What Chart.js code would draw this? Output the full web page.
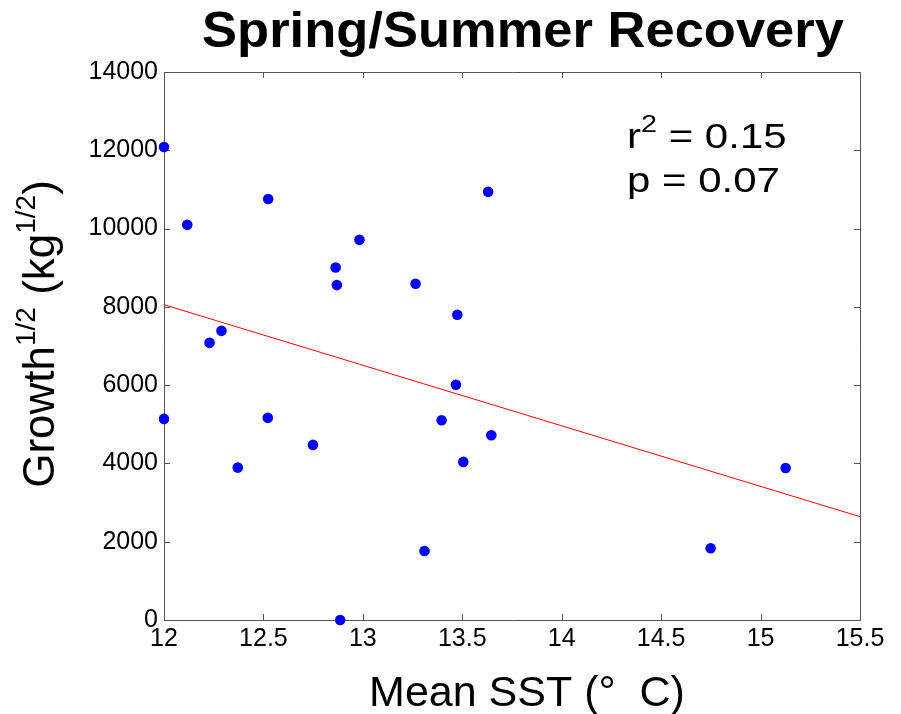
<!DOCTYPE html>
<html>
<head>
<meta charset="utf-8">
<title>Spring/Summer Recovery</title>
<script src="https://cdn.jsdelivr.net/npm/chart.js@4.4.1/dist/chart.umd.min.js"></script>
<style>
  html, body { margin: 0; padding: 0; background: #fff; }
  #chart { display: block; }
</style>
</head>
<body>
<canvas id="chart" width="901" height="714"></canvas>
<script>
// mean sea surface temperature (deg C) and sqrt of growth per year
let sstValues = [12.0, 12.117, 12.0, 12.229, 12.289, 12.371, 12.524, 12.522, 12.749, 12.863, 12.869, 12.886,
                 12.983, 13.265, 13.31, 13.396, 13.475, 13.468, 13.505, 13.63, 13.646, 14.749, 15.126];
let growthValues = [12083, 10097, 5138, 7081, 7387, 3893, 10754, 5164, 4473, 9006, 8556, 0,
                    9713, 8589, 1764, 5104, 7797, 6007, 4039, 10941, 4721, 1833, 3885];
// least squares fit, end points
let fitX = [12, 15.5];
let fitY = [8055, 2640];
let xTicks = [12, 12.5, 13, 13.5, 14, 14.5, 15, 15.5];
let yTicks = [0, 2000, 4000, 6000, 8000, 10000, 12000, 14000];

const fontFamily = '"Liberation Sans", Arial, sans-serif';
const axisColor = '#555';

let points = sstValues.map((x, i) => ({x: x, y: growthValues[i]}));
let fitLine = fitX.map((x, i) => ({x: x, y: fitY[i]}));

// inward tick marks on all four sides plus the top/right frame
const frameTicks = {
  id: 'frameTicks',
  beforeDatasetsDraw(chart) {
    const ctx = chart.ctx;
    const a = chart.chartArea;
    const xs = chart.scales.x, ys = chart.scales.y;
    ctx.save();
    ctx.strokeStyle = axisColor;
    ctx.lineWidth = 1;
    ctx.beginPath();
    ctx.moveTo(a.left, a.top + 0.5);
    ctx.lineTo(a.right + 0.5, a.top + 0.5);
    ctx.lineTo(a.right + 0.5, a.bottom);
    const len = 6;
    xTicks.forEach(v => {
      const px = Math.round(xs.getPixelForValue(v)) + 0.5;
      ctx.moveTo(px, a.bottom);
      ctx.lineTo(px, a.bottom - len);
      ctx.moveTo(px, a.top);
      ctx.lineTo(px, a.top + len);
    });
    yTicks.forEach(v => {
      const py = Math.round(ys.getPixelForValue(v)) + 0.5;
      ctx.moveTo(a.left, py);
      ctx.lineTo(a.left + len, py);
      ctx.moveTo(a.right, py);
      ctx.lineTo(a.right - len, py);
    });
    ctx.stroke();
    ctx.restore();
  }
};

// titles and the r^2 / p note, drawn by hand because of the superscripts
const labels = {
  id: 'labels',
  afterDraw(chart) {
    const ctx = chart.ctx;
    ctx.save();
    ctx.fillStyle = '#000';
    ctx.textBaseline = 'alphabetic';

    // main title
    ctx.save();
    ctx.translate(523, 47);
    ctx.scale(1.05, 1);
    ctx.font = 'bold 50px ' + fontFamily;
    ctx.textAlign = 'center';
    ctx.fillText('Spring/Summer Recovery', 0, 0);
    ctx.restore();

    // x axis title
    ctx.font = '43px ' + fontFamily;
    ctx.textAlign = 'center';
    ctx.fillText('Mean SST (\u00B0  C)', 527, 706);

    // y axis title, rotated
    const big = '44px ' + fontFamily, small = '28px ' + fontFamily;
    const parts = [
      ['Growth', big, 0], ['1/2', small, 19], [' (kg', big, 0], ['1/2', small, 19], [')', big, 0]
    ];
    ctx.textAlign = 'left';
    let total = 0;
    parts.forEach(p => { ctx.font = p[1]; total += ctx.measureText(p[0]).width; });
    ctx.save();
    ctx.translate(54, 334);
    ctx.rotate(-Math.PI / 2);
    let pos = -total / 2;
    parts.forEach(p => {
      ctx.font = p[1];
      ctx.fillText(p[0], pos, -p[2]);
      pos += ctx.measureText(p[0]).width;
    });
    ctx.restore();

    // statistics note
    const note = (segs, x, y) => {
      ctx.save();
      ctx.translate(x, y);
      ctx.scale(1.2, 1);
      let cx = 0;
      segs.forEach(s => {
        ctx.font = s[1];
        ctx.fillText(s[0], cx, -s[2]);
        cx += ctx.measureText(s[0]).width;
      });
      ctx.restore();
    };
    const nb = '35px ' + fontFamily, ns = '24px ' + fontFamily;
    note([['r', nb, 0], ['2', ns, 16], [' = 0.15', nb, 0]], 627, 148);
    note([['p = 0.07', nb, 0]], 627, 192);
    ctx.restore();
  }
};

new Chart(document.getElementById('chart'), {
  type: 'scatter',
  data: {
    datasets: [
      {
        label: 'fit',
        type: 'line',
        data: fitLine,
        borderColor: '#ff0000',
        borderWidth: 1,
        pointRadius: 0,
        fill: false,
        order: 2
      },
      {
        label: 'years',
        data: points,
        backgroundColor: '#0000ff',
        borderColor: '#0000ff',
        borderWidth: 0,
        pointRadius: 5.3,
        clip: false,
        order: 1
      }
    ]
  },
  options: {
    responsive: false,
    animation: false,
    devicePixelRatio: 1,
    layout: { padding: { left: 0, top: 72, right: 41, bottom: 0 } },
    plugins: {
      legend: { display: false },
      title: { display: false },
      tooltip: { enabled: false }
    },
    scales: {
      x: {
        type: 'linear',
        min: 12,
        max: 15.5,
        afterFit(scale) { scale.height = 94; },
        afterBuildTicks(scale) { scale.ticks = xTicks.map(v => ({value: v})); },
        grid: { display: false, drawTicks: false },
        border: { display: true, color: axisColor, width: 1 },
        ticks: {
          padding: 4,
          color: '#000',
          font: { family: fontFamily, size: 25 },
          maxRotation: 0,
          callback: v => String(v)
        }
      },
      y: {
        type: 'linear',
        min: 0,
        max: 14000,
        afterFit(scale) { scale.width = 164; },
        afterBuildTicks(scale) { scale.ticks = yTicks.map(v => ({value: v})); },
        grid: { display: false, drawTicks: false },
        border: { display: true, color: axisColor, width: 1 },
        ticks: {
          padding: 6,
          color: '#000',
          font: { family: fontFamily, size: 25 },
          callback: v => String(v)
        }
      }
    }
  },
  plugins: [frameTicks, labels]
});
</script>
</body>
</html>
